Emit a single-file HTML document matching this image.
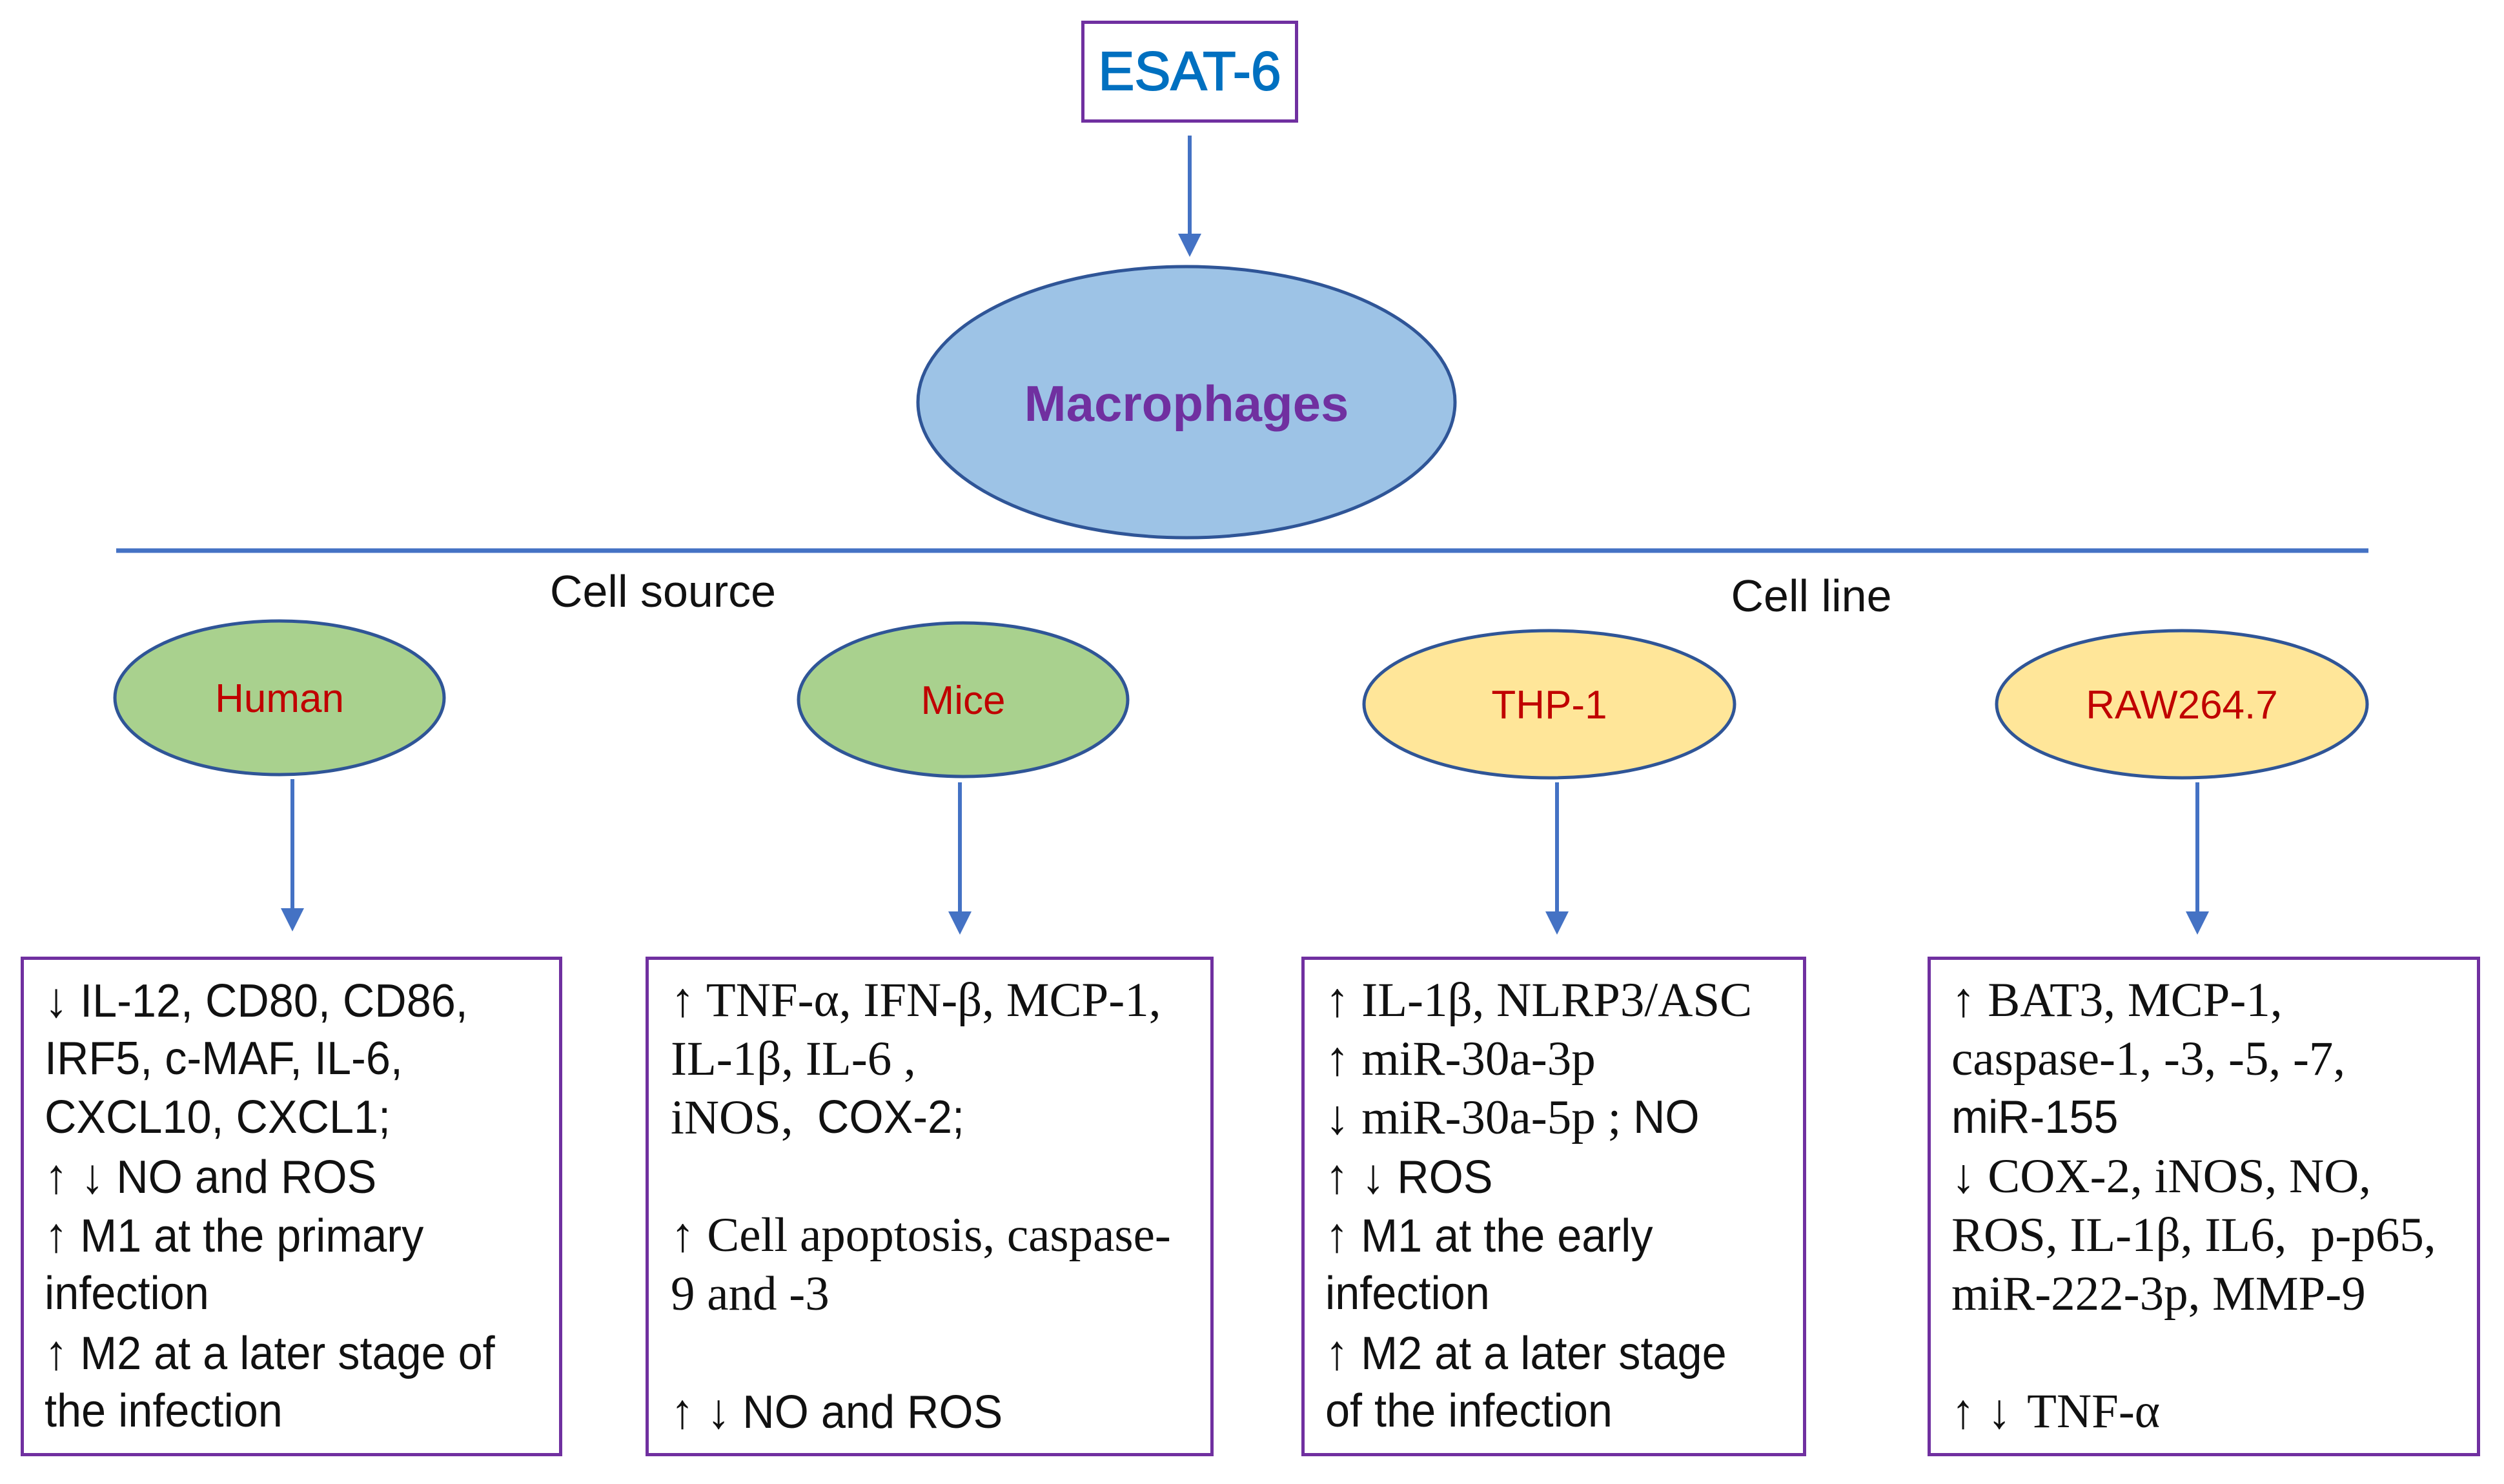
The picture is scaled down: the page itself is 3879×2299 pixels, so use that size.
<!DOCTYPE html>
<html><head><meta charset="utf-8"><style>
body{margin:0;width:3879px;height:2299px;background:#fff;position:relative;overflow:hidden;font-family:"Liberation Sans",sans-serif}
.t{position:absolute;white-space:nowrap}
.box{position:absolute;border:5px solid #7030a0;box-sizing:border-box}
.txt{position:absolute;white-space:nowrap;color:#111}
.txt>div{height:91px;line-height:91px;overflow:visible}
.s{font-family:"Liberation Sans",sans-serif;font-size:72px;display:inline-block;transform:scaleX(0.95);transform-origin:left;line-height:91px;vertical-align:top}
.r{font-family:"Liberation Serif",serif;font-size:75px;line-height:91px;vertical-align:top}
.a{font-size:76px}
</style></head><body>
<svg width="3879" height="2299" style="position:absolute;left:0;top:0">
<defs><marker id="a" markerWidth="6" markerHeight="6" refX="3" refY="3" orient="auto" markerUnits="strokeWidth"><path d="M0,0 L6,3 L0,6 z" fill="#4472c4"/></marker></defs>
<g stroke="#4472c4" stroke-width="6" fill="none">
<line x1="1843" y1="210" x2="1843" y2="380" marker-end="url(#a)"/>
<line x1="453" y1="1207" x2="453" y2="1425" marker-end="url(#a)"/>
<line x1="1487" y1="1212" x2="1487" y2="1430" marker-end="url(#a)"/>
<line x1="2412" y1="1212" x2="2412" y2="1430" marker-end="url(#a)"/>
<line x1="3404" y1="1212" x2="3404" y2="1430" marker-end="url(#a)"/>
</g>
<line x1="180" y1="853" x2="3669" y2="853" stroke="#4472c4" stroke-width="7"/>
<ellipse cx="1838" cy="623" rx="416" ry="210" fill="#9dc3e6" stroke="#2f5597" stroke-width="5"/>
<ellipse cx="433" cy="1081" rx="255" ry="119" fill="#a9d18e" stroke="#2f5597" stroke-width="5"/>
<ellipse cx="1492" cy="1084" rx="255" ry="119" fill="#a9d18e" stroke="#2f5597" stroke-width="5"/>
<ellipse cx="2400" cy="1091" rx="287" ry="114" fill="#ffe699" stroke="#2f5597" stroke-width="5"/>
<ellipse cx="3380" cy="1091" rx="287" ry="114" fill="#ffe699" stroke="#2f5597" stroke-width="5"/>
<g font-family="Liberation Sans, sans-serif" text-anchor="middle">
<text x="1838" y="652" font-size="78" font-weight="bold" fill="#7030a0">Macrophages</text>
<text x="433" y="1103" font-size="62" fill="#c00000">Human</text>
<text x="1492" y="1106" font-size="62" fill="#c00000">Mice</text>
<text x="2400" y="1113" font-size="62" fill="#c00000">THP-1</text>
<text x="3380" y="1113" font-size="62" fill="#c00000">RAW264.7</text>
<text x="1027" y="940" font-size="70" fill="#111">Cell source</text>
<text x="2806" y="947" font-size="70" fill="#111">Cell line</text>
</g>
</svg>
<div class="box" style="left:1675px;top:32px;width:336px;height:158px"></div>
<div class="t" style="left:1675px;top:62px;width:336px;text-align:center;font-size:84px;color:#0070c0;-webkit-text-stroke:2px #0070c0">ESAT-6</div>

<div class="box" style="left:32px;top:1482px;width:839px;height:774px"></div>
<div class="box" style="left:1000px;top:1482px;width:880px;height:774px"></div>
<div class="box" style="left:2016px;top:1482px;width:782px;height:774px"></div>
<div class="box" style="left:2986px;top:1482px;width:856px;height:774px"></div>

<div class="txt" style="left:69px;top:1504px">
<div><span class="s"><span class="a">↓</span> IL-12, CD80, CD86,</span></div>
<div><span class="s">IRF5, c-MAF, IL-6,</span></div>
<div><span class="s">CXCL10, CXCL1;</span></div>
<div><span class="s"><span class="a">↑ ↓</span> NO and ROS</span></div>
<div><span class="s"><span class="a">↑</span> M1 at the primary</span></div>
<div><span class="s">infection</span></div>
<div><span class="s"><span class="a">↑</span> M2 at a later stage of</span></div>
<div><span class="s">the infection</span></div>
</div>
<div class="txt" style="left:1039px;top:1504px">
<div><span class="r">↑ TNF-α, IFN-β, MCP-1,</span></div>
<div><span class="r">IL-1β, IL-6 ,</span></div>
<div><span class="r">iNOS,&nbsp; </span><span class="s">COX-2;</span></div>
<div></div>
<div><span class="r">↑ Cell apoptosis, caspase-</span></div>
<div><span class="r">9 and -3</span></div>
<div></div>
<div><span class="s"><span class="a">↑ ↓</span> NO and ROS</span></div>
</div>
<div class="txt" style="left:2053px;top:1504px">
<div><span class="r">↑ IL-1β, NLRP3/ASC</span></div>
<div><span class="r">↑ miR-30a-3p</span></div>
<div><span class="r">↓ miR-30a-5p ; </span><span class="s">NO</span></div>
<div><span class="s"><span class="a">↑ ↓</span> ROS</span></div>
<div><span class="s"><span class="a">↑</span> M1 at the early</span></div>
<div><span class="s">infection</span></div>
<div><span class="s"><span class="a">↑</span> M2 at a later stage</span></div>
<div><span class="s">of the infection</span></div>
</div>
<div class="txt" style="left:3023px;top:1504px">
<div><span class="r">↑ BAT3, MCP-1,</span></div>
<div><span class="r">caspase-1, -3, -5, -7,</span></div>
<div><span class="s">miR-155</span></div>
<div><span class="r">↓ COX-2, iNOS, NO,</span></div>
<div><span class="r">ROS, IL-1β, IL6,&nbsp; p-p65,</span></div>
<div><span class="r">miR-222-3p, MMP-9</span></div>
<div></div>
<div><span class="s"><span class="a">↑ ↓</span>&nbsp;</span><span class="r">TNF-α</span></div>
</div>
</body></html>
